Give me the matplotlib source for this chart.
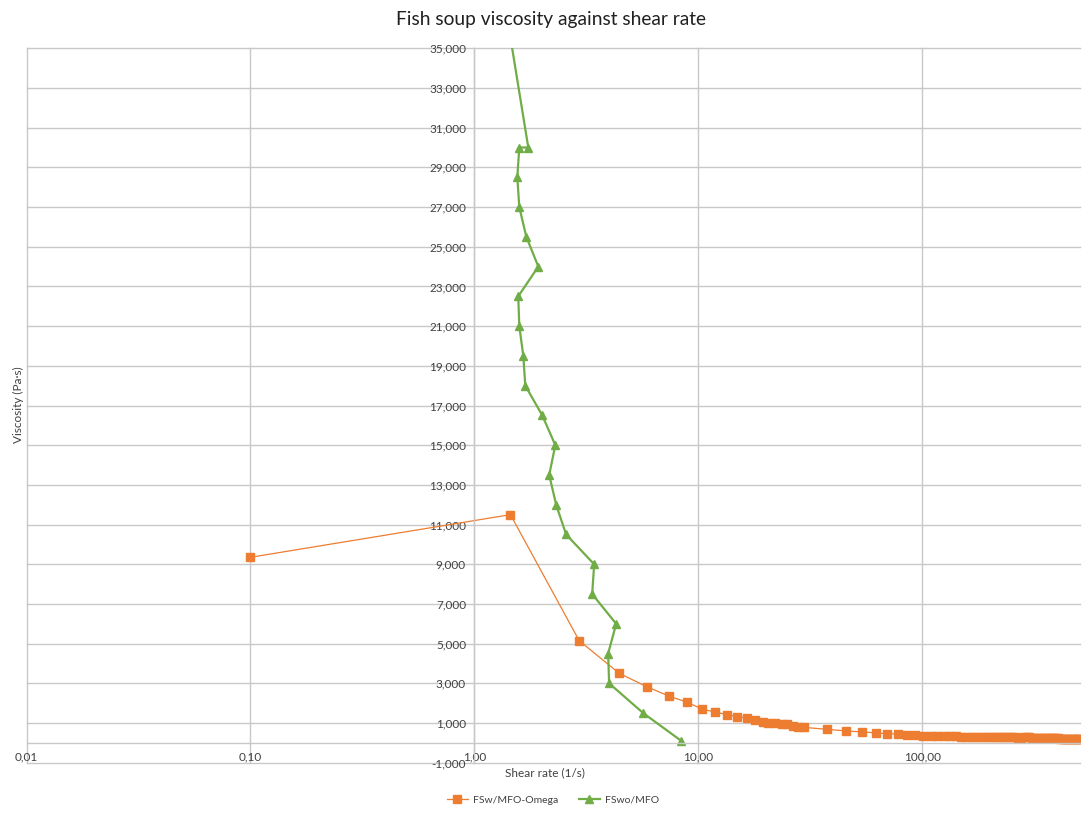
import matplotlib
matplotlib.use("Agg")
import matplotlib.pyplot as plt
from matplotlib.ticker import FixedLocator, FuncFormatter, NullLocator

plt.rcParams['font.family'] = ['Lato', 'DejaVu Sans']

# FSw/MFO-Omega (orange squares)
omega_x = [0.10, 1.45, 2.94, 4.44, 5.92, 7.42, 8.93, 10.4, 11.9, 13.5, 14.9, 16.5,
           18.0, 19.5, 20.5, 22.1, 23.7, 25.0, 26.6, 27.9, 29.7, 37.7, 45.8, 54.0,
           62.3, 69.8, 78.2, 85.7, 93.1, 101, 109, 117, 125, 133, 141, 149, 157,
           165, 173, 181, 189, 197, 205, 213, 221, 229, 237, 245, 253, 261, 269,
           277, 285, 293, 301, 309, 317, 325, 333, 341, 349, 357, 365, 373, 381,
           389, 397, 405, 413, 421, 429, 437, 445, 453, 461, 469, 477, 485, 493,
           501, 509]
omega_y = [9.35, 11.5, 5.15, 3.50, 2.82, 2.35, 2.05, 1.70, 1.55, 1.42, 1.32, 1.25,
           1.15, 1.06, 1.00, 0.98, 0.95, 0.93, 0.86, 0.80, 0.78, 0.68, 0.60, 0.55,
           0.50, 0.46, 0.44, 0.41, 0.39, 0.36, 0.35, 0.34, 0.34, 0.33, 0.33, 0.32,
           0.32, 0.31, 0.31, 0.30, 0.30, 0.30, 0.29, 0.29, 0.28, 0.28, 0.28, 0.27,
           0.27, 0.27, 0.26, 0.26, 0.27, 0.30, 0.27, 0.25, 0.25, 0.25, 0.24, 0.24,
           0.24, 0.23, 0.23, 0.23, 0.22, 0.22, 0.22, 0.22, 0.21, 0.21, 0.21, 0.21,
           0.20, 0.20, 0.20, 0.20, 0.19, 0.19, 0.19, 0.19, 0.18]

# FSwo/MFO (green triangles)
plain_x = [1.25, 1.742, 1.588, 1.556, 1.588, 1.707, 1.931, 1.571, 1.588, 1.655, 1.689,
           2.012, 2.30, 2.16, 2.32, 2.57, 3.43, 3.36, 4.30, 3.96, 4.00, 5.68, 8.40]
plain_y = [40, 30, 30, 28.5, 27, 25.5, 24, 22.5, 21, 19.5, 18, 16.5, 15, 13.5, 12,
           10.5, 9, 7.5, 6, 4.5, 3, 1.5, 0.1]

x_ticks = [0.01, 0.1, 1, 10, 100]
y_ticks = list(range(-1, 36, 2))

ORANGE = '#ED7D31'
GREEN = '#70AD47'
GRID = '#c8c8c8'
TEXT = '#404040'

fig = plt.figure(figsize=(10.91, 8.13), dpi=100)
ax = fig.add_axes([26.5 / 1091, 1 - 762.7 / 813, (1080 - 26.5) / 1091, (762.7 - 48.3) / 813])

ax.plot(omega_x, omega_y, color=ORANGE, lw=0.9, marker='s', ms=6,
        mfc=ORANGE, mec=ORANGE, label='FSw/MFO-Omega')
ax.plot(plain_x, plain_y, color=GREEN, lw=1.6, marker='^', ms=6,
        mfc=GREEN, mec=GREEN, label='FSwo/MFO')

ax.set_xscale('log')
ax.set_xlim(0.01, 507)
ax.set_ylim(-1, 35)

ax.xaxis.set_major_locator(FixedLocator(x_ticks))
ax.xaxis.set_minor_locator(NullLocator())
ax.yaxis.set_major_locator(FixedLocator(y_ticks))
ax.xaxis.set_major_formatter(FuncFormatter(lambda v, p: f"{v:.2f}".replace('.', ',')))
ax.yaxis.set_major_formatter(FuncFormatter(lambda v, p: f"{v:.3f}".replace('.', ',')))

ax.spines['left'].set_position(('data', 1))
ax.spines['bottom'].set_position(('data', 0))
for s in ['top', 'right']:
    ax.spines[s].set_visible(False)
for s in ['left', 'bottom']:
    ax.spines[s].set_color(GRID)
    ax.spines[s].set_linewidth(1.0)

ax.tick_params(axis='both', length=0, labelsize=8.5, colors=TEXT)
ax.tick_params(axis='x', pad=6)
ax.tick_params(axis='y', pad=6)
ax.grid(True, color=GRID, lw=1.0)
for gl in ax.get_xgridlines() + ax.get_ygridlines():
    gl.set_clip_on(False)
ax.set_axisbelow(True)

fig.text(551 / 1091, 1 - 20 / 813, 'Fish soup viscosity against shear rate',
         ha='center', va='center', fontsize=13.8, color='#202020')
fig.text(545 / 1091, 1 - 773 / 813, 'Shear rate (1/s)',
         ha='center', va='center', fontsize=8.5, color=TEXT)
fig.text(18 / 1091, 1 - 405 / 813, 'Viscosity (Pa·s)', rotation=90,
         ha='center', va='center', fontsize=8.5, color=TEXT)

fig.legend(loc='center', bbox_to_anchor=(553 / 1091, 1 - 800 / 813), ncol=2,
           frameon=False, fontsize=7.5, labelcolor=TEXT, handlelength=2.0,
           handletextpad=0.5, columnspacing=2.0)

fig.savefig('out.png', dpi=100)
